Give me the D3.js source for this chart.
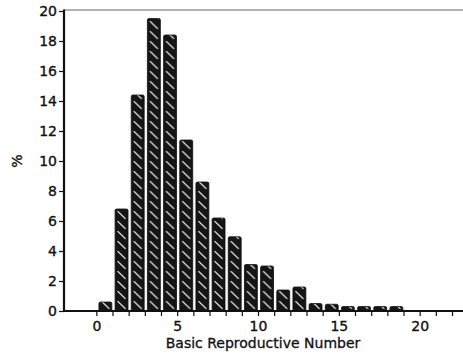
<!DOCTYPE html>
<html>
<head>
<meta charset="utf-8">
<script src="https://cdn.jsdelivr.net/npm/d3@7"></script>
<style>
  html, body { margin: 0; padding: 0; background: #fff; }
  svg { display: block; }
  text { font-family: "DejaVu Sans", "Liberation Sans", Arial, sans-serif; fill: #111; }
</style>
</head>
<body>
<svg id="chart" width="463" height="356"></svg>
<script>
// Distribution of the basic reproductive number (percent of simulations per unit bin)
const binStarts = [0, 1, 2, 3, 4, 5, 6, 7, 8, 9, 10, 11, 12, 13, 14, 15, 16, 17, 18];
const percents  = [0.6, 6.8, 14.4, 19.5, 18.4, 11.4, 8.6, 6.2, 4.95, 3.1, 3.0, 1.4, 1.6, 0.5, 0.45, 0.3, 0.3, 0.3, 0.3];
const xTickLabels = [0, 5, 10, 15, 20];
const yTickLabels = [0, 2, 4, 6, 8, 10, 12, 14, 16, 18, 20];

const svg = d3.select("#chart");
const W = 463, H = 356;
const m = { left: 64, right: 0, top: 11, bottom: 45 };

const x = d3.scaleLinear().domain([-2, 22.68]).range([m.left, W - m.right]);
const y = d3.scaleLinear().domain([0, 20]).range([H - m.bottom, m.top]);

// bar occupies most of its unit bin, leaving a gap on the left
const barLo = 0.16, barHi = 0.96;
const bw = x(barHi) - x(barLo);

// hatch: short white "\" strokes on black
const defs = svg.append("defs");
const pat = defs.append("pattern")
  .attr("id", "hatch")
  .attr("patternUnits", "userSpaceOnUse")
  .attr("width", bw).attr("height", 10);
pat.append("rect").attr("width", bw).attr("height", 10).attr("fill", "#151515");
pat.append("line")
  .attr("x1", bw * 0.22).attr("y1", 1.5)
  .attr("x2", bw * 0.78).attr("y2", 8.5)
  .attr("stroke", "#dcdcdc").attr("stroke-width", 1.2).attr("stroke-linecap", "round");

// frame top edge
svg.append("line")
  .attr("x1", x(-2)).attr("x2", W).attr("y1", y(20) - 1).attr("y2", y(20) - 1)
  .attr("stroke", "#666").attr("stroke-width", 1.2);

// bars
const bars = svg.append("g").selectAll("g")
  .data(binStarts.map((b, i) => ({ b, v: percents[i] })))
  .join("g")
  .attr("transform", d => `translate(${x(d.b + barLo)},0)`);
bars.append("rect")
  .attr("x", 0).attr("width", bw)
  .attr("y", d => y(d.v)).attr("height", d => y(0) - y(d.v))
  .attr("rx", 1.5)
  .attr("fill", "url(#hatch)")
  .attr("stroke", "#111").attr("stroke-width", 0.8);

// x axis: minor ticks every unit, labels every 5
const xAxis = d3.axisBottom(x)
  .tickValues(d3.range(0, 23))
  .tickSize(5)
  .tickFormat(d => xTickLabels.includes(d) ? d : "");
const gx = svg.append("g").attr("transform", `translate(0,${y(0)})`).call(xAxis);
gx.select(".domain").remove();
gx.selectAll(".tick line").attr("stroke", "#111").attr("stroke-width", 1.2);
gx.selectAll(".tick text").attr("dy", "0.74em").attr("y", 10)
  .style("font-size", "14px").attr("stroke", "#111").attr("stroke-width", 0.35);

svg.append("line")
  .attr("x1", x(-2)).attr("x2", W).attr("y1", y(0)).attr("y2", y(0))
  .attr("stroke", "#111").attr("stroke-width", 2.2);

// y axis
const yAxis = d3.axisLeft(y).tickValues(yTickLabels).tickSize(5).tickFormat(d3.format("d"));
const gy = svg.append("g").attr("transform", `translate(${x(-2)},0)`).call(yAxis);
gy.select(".domain").remove();
gy.selectAll(".tick line").attr("stroke", "#111").attr("stroke-width", 1.2);
gy.selectAll(".tick text").attr("x", -7)
  .style("font-size", "14px").attr("stroke", "#111").attr("stroke-width", 0.35);

svg.append("line")
  .attr("x1", x(-2)).attr("x2", x(-2)).attr("y1", y(20) - 1.5).attr("y2", y(0) + 1)
  .attr("stroke", "#111").attr("stroke-width", 2.2);

// axis titles
svg.append("text")
  .attr("x", 263).attr("y", 348)
  .attr("text-anchor", "middle")
  .style("font-size", "14px").attr("stroke", "#111").attr("stroke-width", 0.3)
  .text("Basic Reproductive Number");

svg.append("text")
  .attr("transform", `translate(22,161) rotate(-90)`)
  .attr("text-anchor", "middle")
  .style("font-size", "14px").attr("stroke", "#111").attr("stroke-width", 0.35)
  .text("%");
</script>
</body>
</html>
